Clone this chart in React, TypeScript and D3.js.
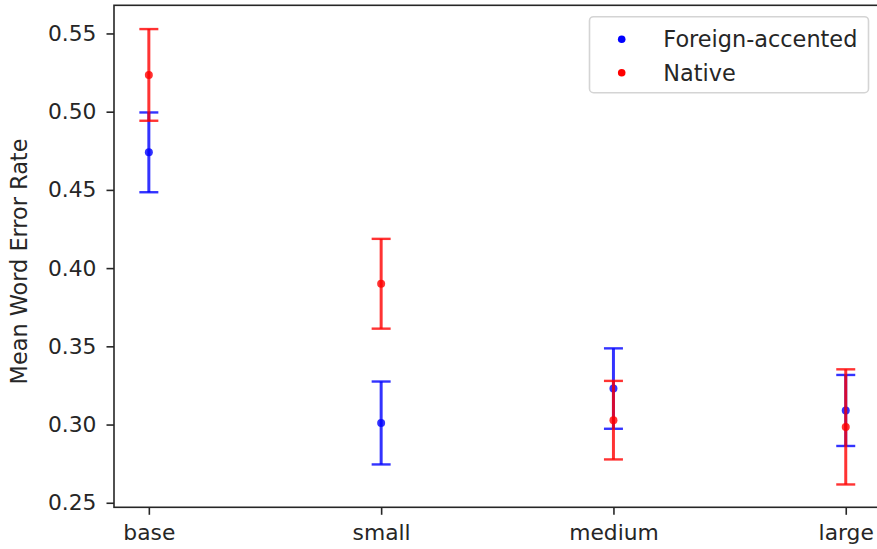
import { useEffect, useRef } from "react";
import * as d3 from "d3";

const models = ["base", "small", "medium", "large"];
const foreignMean = [0.474, 0.301, 0.323, 0.309];
const foreignErr = [0.0255, 0.0265, 0.0257, 0.0227];
const nativeMean = [0.5235, 0.39, 0.3028, 0.2985];
const nativeErr = [0.0293, 0.0287, 0.0251, 0.0368];
const yTicks = [0.25, 0.3, 0.35, 0.4, 0.45, 0.5, 0.55];
const seriesNames = ["Foreign-accented", "Native"];
const seriesColors = ["#0000ff", "#ff0000"];

const WIDTH = 877;
const HEIGHT = 549;
const FONT = "'DejaVu Sans', sans-serif";

export default function App() {
  const svgRef = useRef<SVGSVGElement>(null);

  useEffect(() => {
    if (!svgRef.current) return;
    const svg = d3.select(svgRef.current);
    svg.selectAll("*").remove();

    const left = 114;
    const top = 5.3;
    const bottom = 507.3;
    const unit = 232.3;

    // category positions, matplotlib style with 5% margins
    const x = d3
      .scaleLinear()
      .domain([-0.15, 3.15])
      .range([left, left + 3.3 * unit]);
    const y = d3.scaleLinear().domain([0.2471, 0.568]).range([bottom, top]);

    const g = svg.append("g");

    // spines
    g.append("rect")
      .attr("x", x(-0.15))
      .attr("y", top)
      .attr("width", x(3.15) - x(-0.15))
      .attr("height", bottom - top)
      .attr("fill", "none")
      .attr("stroke", "#262626")
      .attr("stroke-width", 1.6);

    // y axis
    const yAxis = g
      .append("g")
      .attr("transform", `translate(${left},0)`)
      .call(
        d3
          .axisLeft(y)
          .tickValues(yTicks)
          .tickSize(7.5)
          .tickPadding(10)
          .tickFormat(d3.format(".2f"))
      );
    yAxis.select(".domain").remove();
    yAxis.selectAll(".tick line").attr("stroke", "#262626").attr("stroke-width", 1.6);
    yAxis
      .selectAll(".tick text")
      .attr("fill", "#262626")
      .attr("font-family", FONT)
      .attr("font-size", 21.8);

    // x axis
    const xAxis = g
      .append("g")
      .attr("transform", `translate(0,${bottom})`)
      .call(
        d3
          .axisBottom(x)
          .tickValues(d3.range(models.length))
          .tickSize(7.5)
          .tickPadding(10)
          .tickFormat((d) => models[d as number])
      );
    xAxis.select(".domain").remove();
    xAxis.selectAll(".tick line").attr("stroke", "#262626").attr("stroke-width", 1.6);
    xAxis
      .selectAll(".tick text")
      .attr("fill", "#262626")
      .attr("font-family", FONT)
      .attr("font-size", 21.8);

    // y label
    g.append("text")
      .attr("transform", `translate(26.5,261.5) rotate(-90)`)
      .attr("text-anchor", "middle")
      .attr("fill", "#262626")
      .attr("font-family", FONT)
      .attr("font-size", 22.4)
      .text("Mean Word Error Rate");

    // error bars and points
    const series = [
      { mean: foreignMean, err: foreignErr, color: seriesColors[0] },
      { mean: nativeMean, err: nativeErr, color: seriesColors[1] },
    ];
    const cap = 9.5;
    series.forEach((s) => {
      const sg = g.append("g");
      s.mean.forEach((m, i) => {
        const cx = x(i);
        const lo = y(m - s.err[i]);
        const hi = y(m + s.err[i]);
        sg.append("line")
          .attr("x1", cx)
          .attr("x2", cx)
          .attr("y1", lo)
          .attr("y2", hi)
          .attr("stroke", s.color)
          .attr("stroke-opacity", 0.8)
          .attr("stroke-width", 3);
        [lo, hi].forEach((cy) => {
          sg.append("line")
            .attr("x1", cx - cap)
            .attr("x2", cx + cap)
            .attr("y1", cy)
            .attr("y2", cy)
            .attr("stroke", s.color)
            .attr("stroke-opacity", 0.8)
            .attr("stroke-width", 2.4);
        });
        sg.append("circle")
          .attr("cx", cx)
          .attr("cy", y(m))
          .attr("r", 4)
          .attr("fill", s.color)
          .attr("fill-opacity", 0.8);
      });
    });

    // legend
    const lg = g.append("g");
    lg.append("rect")
      .attr("x", 589.5)
      .attr("y", 16.7)
      .attr("width", 279)
      .attr("height", 76)
      .attr("rx", 4)
      .attr("fill", "#ffffff")
      .attr("fill-opacity", 0.8)
      .attr("stroke", "#d4d4d4")
      .attr("stroke-width", 1.6);
    seriesNames.forEach((name, i) => {
      const cy = 39.3 + i * 33.4;
      lg.append("circle")
        .attr("cx", 621.7)
        .attr("cy", cy)
        .attr("r", 3.8)
        .attr("fill", seriesColors[i]);
      lg.append("text")
        .attr("x", 663.3)
        .attr("y", cy + 7.8)
        .attr("fill", "#262626")
        .attr("font-family", FONT)
        .attr("font-size", 22.4)
        .text(name);
    });
  }, []);

  return (
    <div style={{ position: "absolute", left: 0, top: 0 }}>
      <svg ref={svgRef} width={WIDTH} height={HEIGHT} style={{ display: "block", background: "#fff" }} />
    </div>
  );
}
